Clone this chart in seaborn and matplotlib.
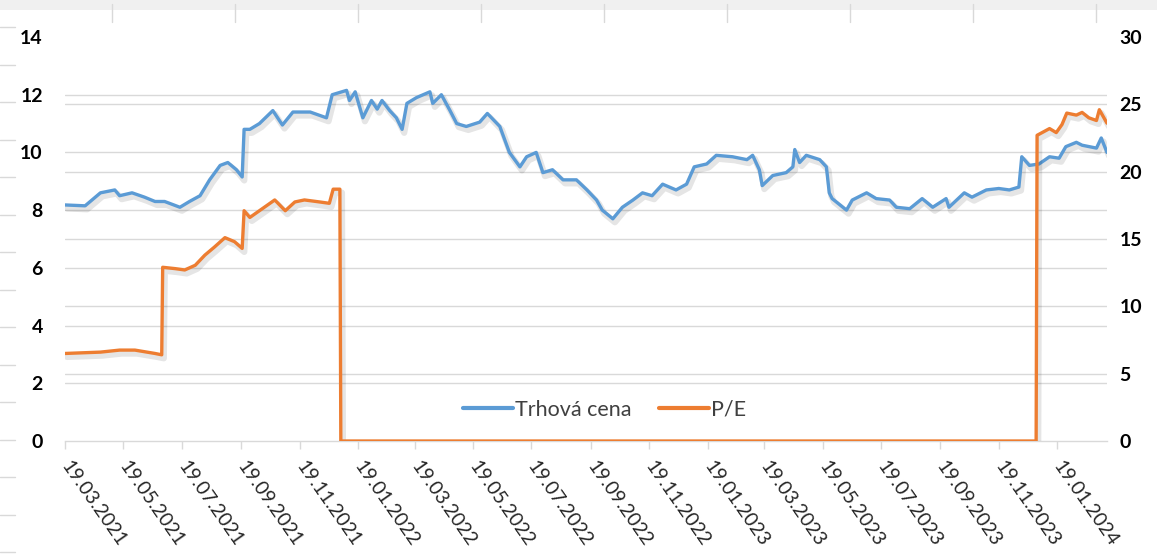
import pandas as pd
import matplotlib.pyplot as plt
import matplotlib.patheffects as pe
from matplotlib.lines import Line2D
from matplotlib.patches import Rectangle
import seaborn as sns

# Trhová cena (ľavá os)
price_dates = [
    "2021-03-19", "2021-04-09", "2021-04-25", "2021-05-10", "2021-05-15", "2021-05-28",
    "2021-06-10", "2021-06-21", "2021-07-01", "2021-07-17", "2021-07-27", "2021-08-07",
    "2021-08-17", "2021-08-28", "2021-09-05", "2021-09-14", "2021-09-20", "2021-09-22",
    "2021-09-28", "2021-10-08", "2021-10-22", "2021-11-01", "2021-11-12", "2021-11-30",
    "2021-12-17", "2021-12-23", "2022-01-07", "2022-01-10", "2022-01-16", "2022-01-24",
    "2022-02-02", "2022-02-08", "2022-02-13", "2022-02-21", "2022-02-28", "2022-03-06",
    "2022-03-11", "2022-03-21", "2022-04-04", "2022-04-07", "2022-04-16", "2022-04-25",
    "2022-05-02", "2022-05-12", "2022-05-26", "2022-06-03", "2022-06-16", "2022-06-26",
    "2022-07-07", "2022-07-14", "2022-07-24", "2022-07-31", "2022-08-10", "2022-08-21",
    "2022-09-04", "2022-09-15", "2022-09-25", "2022-10-01", "2022-10-12", "2022-10-22",
    "2022-11-02", "2022-11-12", "2022-11-22", "2022-12-03", "2022-12-17", "2022-12-28",
    "2023-01-05", "2023-01-18", "2023-01-28", "2023-02-14", "2023-03-01", "2023-03-07",
    "2023-03-14", "2023-03-17", "2023-03-28", "2023-04-11", "2023-04-18", "2023-04-20",
    "2023-04-25", "2023-05-02", "2023-05-16", "2023-05-23", "2023-05-26", "2023-05-29",
    "2023-06-13", "2023-06-19", "2023-07-04", "2023-07-14", "2023-07-28", "2023-08-04",
    "2023-08-18", "2023-08-31", "2023-09-11", "2023-09-25", "2023-09-28", "2023-10-14",
    "2023-10-22", "2023-11-06", "2023-11-19", "2023-11-30", "2023-12-10", "2023-12-13",
    "2023-12-21", "2023-12-31", "2024-01-11", "2024-01-21", "2024-01-28", "2024-02-08",
    "2024-02-14", "2024-02-29", "2024-03-05", "2024-03-11",
]
price_values = [
    8.18, 8.15, 8.6, 8.7, 8.5, 8.6,
    8.45, 8.3, 8.3, 8.1, 8.3, 8.5,
    9.05, 9.55, 9.65, 9.4, 9.15, 10.8,
    10.8, 11.0, 11.45, 10.95, 11.4, 11.4,
    11.2, 12.0, 12.15, 11.8, 12.1, 11.2,
    11.8, 11.5, 11.8, 11.45, 11.2, 10.8,
    11.7, 11.9, 12.1, 11.7, 12.0, 11.45,
    11.0, 10.9, 11.05, 11.35, 10.9, 10.0,
    9.5, 9.85, 10.0, 9.3, 9.4, 9.05,
    9.05, 8.7, 8.35, 8.0, 7.7, 8.1,
    8.35, 8.6, 8.5, 8.9, 8.7, 8.9,
    9.5, 9.6, 9.9, 9.85, 9.75, 9.9,
    9.4, 8.85, 9.2, 9.3, 9.5, 10.1,
    9.65, 9.9, 9.75, 9.5, 8.6, 8.4,
    8.0, 8.35, 8.6, 8.4, 8.35, 8.1,
    8.05, 8.4, 8.1, 8.4, 8.1, 8.6,
    8.45, 8.7, 8.75, 8.7, 8.8, 9.85,
    9.55, 9.6, 9.85, 9.8, 10.2, 10.35,
    10.25, 10.15, 10.5, 10.0,
]

# P/E (pravá os)
pe_dates = [
    "2021-03-19", "2021-04-25", "2021-05-15", "2021-05-31", "2021-06-21", "2021-06-28",
    "2021-06-29", "2021-07-12", "2021-07-22", "2021-08-02", "2021-08-12", "2021-08-22",
    "2021-09-02", "2021-09-12", "2021-09-20", "2021-09-22", "2021-09-28", "2021-10-08",
    "2021-10-24", "2021-11-04", "2021-11-14", "2021-11-24", "2021-12-10", "2021-12-20",
    "2021-12-24", "2021-12-31", "2022-01-01", "2023-12-28", "2023-12-29", "2024-01-11",
    "2024-01-18", "2024-01-24", "2024-01-29", "2024-02-08", "2024-02-14", "2024-02-21",
    "2024-02-29", "2024-03-03", "2024-03-11",
]
pe_values = [
    6.5, 6.6, 6.75, 6.75, 6.5, 6.4,
    12.9, 12.8, 12.7, 13.05, 13.8, 14.4,
    15.1, 14.8, 14.3, 17.1, 16.6, 17.1,
    17.9, 17.1, 17.75, 17.9, 17.75, 17.65,
    18.7, 18.7, 0, 0, 22.7, 23.2,
    22.9, 23.5, 24.35, 24.2, 24.4, 24.0,
    23.8, 24.6, 23.6,
]

left_ticks = [0, 2, 4, 6, 8, 10, 12, 14]
right_ticks = [0, 5, 10, 15, 20, 25, 30]
x_start, x_end = "2021-03-19", "2024-03-11"
tick_labels = ["19.03.2021", "19.05.2021", "19.07.2021", "19.09.2021", "19.11.2021",
               "19.01.2022", "19.03.2022", "19.05.2022", "19.07.2022", "19.09.2022",
               "19.11.2022", "19.01.2023", "19.03.2023", "19.05.2023", "19.07.2023",
               "19.09.2023", "19.11.2023", "19.01.2024"]

BLUE = "#5B9BD5"
ORANGE = "#ED7D31"
GRID = "#d9d9d9"

sns.set_theme(style="white")
plt.rcParams["font.family"] = ["Lato", "DejaVu Sans"]

price = pd.DataFrame({"date": pd.to_datetime(price_dates), "value": price_values})
pe_df = pd.DataFrame({"date": pd.to_datetime(pe_dates), "value": pe_values})

W, H = 1157, 555
fig = plt.figure(figsize=(W / 100, H / 100), dpi=100)
ax = fig.add_axes([65 / W, 1 - 441 / H, (1107 - 65) / W, (441 - 37) / H])
ax2 = ax.twinx()

# mriežka pre obe osi (bez hornej hranice)
for t in left_ticks[1:-1]:
    ax.axhline(t, color=GRID, lw=1, zorder=0)
for t in right_ticks[1:-1]:
    ax.axhline(t * left_ticks[-1] / right_ticks[-1], color=GRID, lw=1, zorder=0)

shadow = [pe.SimpleLineShadow(offset=(1.5, -2.5), shadow_color="black", alpha=0.1, linewidth=4.5),
          pe.Normal()]

sns.lineplot(data=price, x="date", y="value", ax=ax, color=BLUE, lw=2.4,
             label="Trhová cena", legend=False)
sns.lineplot(data=pe_df, x="date", y="value", ax=ax2, color=ORANGE, lw=2.4,
             label="P/E", legend=False)
for a in (ax, ax2):
    for ln in a.get_lines():
        if ln.get_color() in (BLUE, ORANGE):
            ln.set_path_effects(shadow)
            ln.set_solid_joinstyle("round")

ax.set_xlim(pd.Timestamp(x_start), pd.Timestamp(x_end))
ax.set_ylim(left_ticks[0], left_ticks[-1])
ax2.set_ylim(right_ticks[0], right_ticks[-1])

ax.set_yticks(left_ticks)
ax.set_yticklabels([str(t) for t in left_ticks], fontsize=14, fontweight="bold", color="black")
ax2.set_yticks(right_ticks)
ax2.set_yticklabels([str(t) for t in right_ticks], fontsize=14, fontweight="bold", color="black")
ax.tick_params(axis="y", length=0, pad=16)
ax2.tick_params(axis="y", length=0, pad=9)

tick_dates = pd.to_datetime(tick_labels, format="%d.%m.%Y")
ax.set_xticks(tick_dates)
ax.set_xticklabels(tick_labels, rotation=-55, ha="left", va="center",
                   rotation_mode="anchor", fontsize=14, color="#262626")
ax.tick_params(axis="x", length=6, width=1, color=GRID, pad=10, bottom=True)

ax.set_xlabel("")
ax.set_ylabel("")
ax2.set_ylabel("")
for a in (ax, ax2):
    for s in ("top", "left", "right"):
        a.spines[s].set_visible(False)
ax.spines["bottom"].set_color(GRID)
ax.spines["bottom"].set_linewidth(1)
ax2.spines["bottom"].set_visible(False)

handles = [Line2D([], [], color=BLUE, lw=3), Line2D([], [], color=ORANGE, lw=3)]
ax2.legend(handles, ["Trhová cena", "P/E"], loc="center", bbox_to_anchor=(0.518, 0.077),
           ncol=2, frameon=False, fontsize=15.5, handlelength=2.3, handletextpad=0.1,
           columnspacing=1.3, labelcolor="#404040")

# zvyšky okolia tabuľky
fig.patches.append(Rectangle((0, 1 - 10 / H), 1, 10 / H, transform=fig.transFigure,
                             facecolor="#f0f0f0", edgecolor="none"))
for xp in range(112, 1100, 123):
    fig.add_artist(Line2D([xp / W, xp / W], [1 - 4 / H, 1 - 22 / H], color=GRID, lw=1))
for k in range(15):
    yp = 27 + 37.5 * k
    fig.add_artist(Line2D([0, 15 / W], [1 - yp / H, 1 - yp / H], color=GRID, lw=1))

fig.savefig("out.png", dpi=100)
